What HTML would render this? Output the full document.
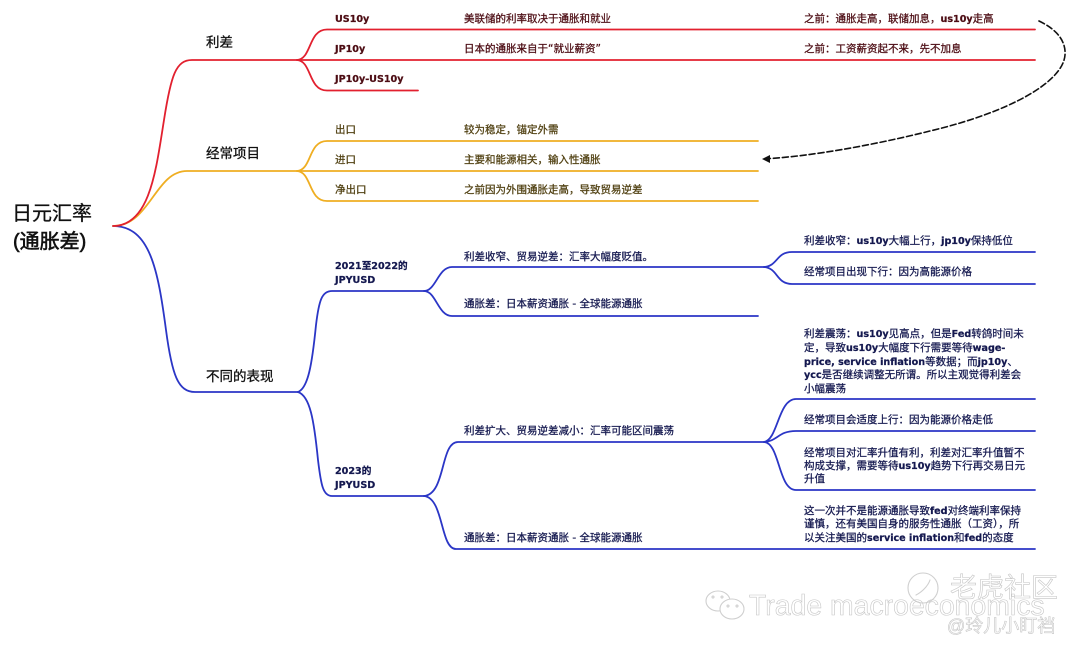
<!DOCTYPE html>
<html><head><meta charset="utf-8"><style>
html,body{margin:0;padding:0;background:#fff}
svg{display:block;filter:blur(.3px)}
text{font-family:"DejaVu Sans","Noto Sans CJK SC",sans-serif;font-size:10.5px}
.c{font-family:"Liberation Sans","Noto Sans CJK SC",sans-serif}
.b{font-weight:700;font-size:9.6px;font-family:"DejaVu Sans","Noto Sans CJK SC",sans-serif}
.r text{fill:#4d0d14;stroke:#4d0d14;stroke-width:.25px}
.o text{fill:#4f3f10;stroke:#4f3f10;stroke-width:.25px}
.n text{fill:#14184f;stroke:#14184f;stroke-width:.25px}
.m text{fill:#111;stroke:#111;stroke-width:.3px}
.w text{fill:#fff;stroke:#c6c6c6;stroke-width:.6px}
path,ellipse,circle{fill:none;stroke-linecap:round}
</style></head><body>
<svg width="1080" height="651" viewBox="0 0 1080 651" xmlns="http://www.w3.org/2000/svg">
<g class="w">
<g stroke="#cfcfcf" stroke-width="1.100">
<ellipse cx="718" cy="601" rx="12" ry="10"/>
<ellipse cx="732" cy="609" rx="12" ry="10" style="fill:#fff"/>
<circle cx="923" cy="588" r="15"/>
<path d="M916 595C922 592 928 586 930 580"/>
<circle cx="713" cy="597" r="1"/><circle cx="722" cy="597" r="1"/>
<circle cx="728" cy="606" r="1"/><circle cx="737" cy="606" r="1"/>
</g>
<text x="950" y="597" class="c" style="font-size:27px">老虎社区</text>
<text x="749" y="615" class="c" style="font-size:28.400px;fill:none">Trade macroeconomics</text>
<text x="947" y="632" class="c" style="font-size:18px">@玲儿小盯裆</text>
</g>
<g stroke="#2b36c6" stroke-width="1.800">
<path d="M113 226C150 226 158 270 166 330C172 375 178 392 195 392H298"/>
<path d="M298 392C308 388 312 365 316 325C319 300 322 291 332 291H424"/>
<path d="M298 392C310 396 314 420 318 460C321 485 323 496 332 496H424"/>
<path d="M424 291C436 291 438 267 452 267H766"/>
<path d="M424 291C436 291 438 316 452 316H758"/>
<path d="M424 496C446 494 440 442 458 442H764"/>
<path d="M424 496C444 498 440 549 456 549H1035"/>
<path d="M764 267C778 266 776 252 792 252H1035"/>
<path d="M764 267C778 268 776 284 792 284H1035"/>
<path d="M764 442C778 440 778 399 796 399H1035"/>
<path d="M764 442C778 441 778 431 796 431H1035"/>
<path d="M764 442C780 443 778 490 796 490H1035"/>
</g>
<g stroke="#efae22" stroke-width="1.800">
<path d="M113 226C150 226 155 171 187 171H297"/>
<path d="M297 171C312 170 308 141 327 141H758"/>
<path d="M297 171H758"/>
<path d="M297 171C312 172 308 201 327 201H758"/>
</g>
<g stroke="#e2202f" stroke-width="1.800">
<path d="M113 226C150 226 156 170 164 120C171 75 176 60 192 60H297"/>
<path d="M297 60C312 59 308 29.500 327 29.500H1035"/>
<path d="M297 60H1035"/>
<path d="M297 60C312 61 308 90.500 327 90.500H418"/>
</g>
<path d="M1039 21C1058 30 1066 42 1065 55C1063 82 1010 112 930 131C870 146 810 156 770 158.500" stroke="#111" stroke-width="1.600" stroke-dasharray="6 3"/>
<path d="M762 159L770 155V163Z" style="fill:#111;stroke:none"/>

<g class="m">
<text x="12" y="220" class="c" style="font-size:20px">日元汇率</text>
<text x="13" y="248" class="c" style="font-size:20px;stroke-width:.6px">(通胀差)</text>
<text x="206" y="47" class="c" style="font-size:13.500px">利差</text>
<text x="206" y="158" class="c" style="font-size:13.500px">经常项目</text>
<text x="206" y="381" class="c" style="font-size:13.500px">不同的表现</text>
</g>

<g class="r">
<text x="335" y="22" class="b">US10y</text>
<text x="335" y="52" class="b">JP10y</text>
<text x="335" y="82" class="b">JP10y-US10y</text>
<text x="464" y="22">美联储的利率取决于通胀和就业</text>
<text x="464" y="52">日本的通胀来自于“就业薪资”</text>
<text x="804" y="22">之前：通胀走高，联储加息，<tspan class="b">us10y</tspan>走高</text>
<text x="804" y="52">之前：工资薪资起不来，先不加息</text>
</g>
<g class="o">
<text x="335" y="133">出口</text>
<text x="335" y="163">进口</text>
<text x="335" y="193">净出口</text>
<text x="464" y="133">较为稳定，锚定外需</text>
<text x="464" y="163">主要和能源相关，输入性通胀</text>
<text x="464" y="193">之前因为外围通胀走高，导致贸易逆差</text>
</g>
<g class="n">
<text x="335" y="269" class="b">2021至2022的</text>
<text x="335" y="283" class="b">JPYUSD</text>
<text x="335" y="474" class="b">2023的</text>
<text x="335" y="488" class="b">JPYUSD</text>
<text x="464" y="260">利差收窄、贸易逆差：汇率大幅度贬值。</text>
<text x="464" y="307">通胀差：日本薪资通胀 - 全球能源通胀</text>
<text x="464" y="434">利差扩大、贸易逆差减小：汇率可能区间震荡</text>
<text x="464" y="541">通胀差：日本薪资通胀 - 全球能源通胀</text>
<text x="804" y="244">利差收窄：<tspan class="b">us10y</tspan>大幅上行，<tspan class="b">jp10y</tspan>保持低位</text>
<text x="804" y="275">经常项目出现下行：因为高能源价格</text>
<text x="804" y="337">利差震荡：<tspan class="b">us10y</tspan>见高点，但是<tspan class="b">Fed</tspan>转鸽时间未</text>
<text x="804" y="351">定，导致<tspan class="b">us10y</tspan>大幅度下行需要等待<tspan class="b">wage-</tspan></text>
<text x="804" y="365"><tspan class="b">price, service inflation</tspan>等数据；而<tspan class="b">jp10y</tspan>、</text>
<text x="804" y="378"><tspan class="b">ycc</tspan>是否继续调整无所谓。所以主观觉得利差会</text>
<text x="804" y="392">小幅震荡</text>
<text x="804" y="423">经常项目会适度上行：因为能源价格走低</text>
<text x="804" y="456">经常项目对汇率升值有利，利差对汇率升值暂不</text>
<text x="804" y="469">构成支撑，需要等待<tspan class="b">us10y</tspan>趋势下行再交易日元</text>
<text x="804" y="482">升值</text>
<text x="804" y="514">这一次并不是能源通胀导致<tspan class="b">fed</tspan>对终端利率保持</text>
<text x="804" y="527">谨慎，还有美国自身的服务性通胀（工资），所</text>
<text x="804" y="541">以关注美国的<tspan class="b">service inflation</tspan>和<tspan class="b">fed</tspan>的态度</text>
</g>
</svg>
</body></html>
